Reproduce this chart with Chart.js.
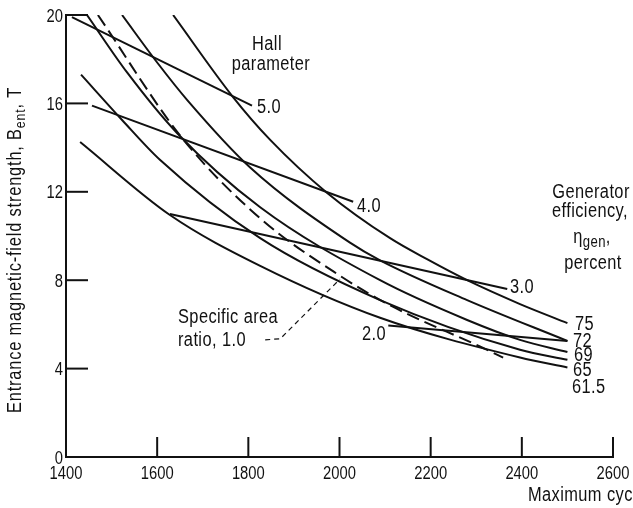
<!DOCTYPE html>
<html>
<head>
<meta charset="utf-8">
<script src="https://cdn.jsdelivr.net/npm/chart.js@4.4.1/dist/chart.umd.min.js"></script>
<style>
  html, body { margin: 0; padding: 0; background: #fff; }
  #wrap { width: 633px; height: 508px; }
</style>
</head>
<body>
<div id="wrap"><canvas id="chart" width="633" height="508"></canvas></div>
<script>
// --- data (temperature, K / entrance field, T) ---

const xTicks = [1400, 1600, 1800, 2000, 2200, 2400, 2600];
const yTicks = [0, 4, 8, 12, 16, 20];

// generator efficiency curves, percent
const eff75T = [1635, 1766, 1848, 1973, 2111, 2192, 2280, 2396, 2500];
const eff75B = [20.0, 16.3, 14.35, 11.95, 9.9, 8.95, 8.0, 6.92, 6.06];

const eff72T = [1523, 1600, 1666, 1804, 2023, 2089, 2280, 2500];
const eff72B = [20.0, 17.85, 16.15, 13.1, 9.7, 8.9, 7.1, 5.25];

const eff69T = [1446, 1534, 1644, 1826, 2089, 2280, 2396, 2500];
const eff69B = [20.0, 17.4, 14.65, 11.3, 8.0, 6.2, 5.3, 4.75];

const eff65T = [1433, 1523, 1606, 1826, 2089, 2396, 2500];
const eff65B = [17.3, 15.25, 13.45, 9.9, 7.1, 4.85, 4.4];

const eff615T = [1431, 1628, 1826, 2089, 2396, 2500];
const eff615B = [14.25, 10.95, 8.65, 6.3, 4.5, 4.05];

// specific area ratio 1.0 (dashed)
const areaT = [1470, 1654, 1826, 2001, 2117, 2308, 2359];
const areaB = [20.0, 14.45, 10.8, 8.2, 6.8, 5.0, 4.5];

// Hall parameter lines
const hall5T = [1413, 1808];
const hall5B = [19.9, 15.9];
const hall4T = [1457, 2030];
const hall4B = [15.9, 11.55];
const hall3T = [1628, 2368];
const hall3B = [11.0, 7.6];
const hall2T = [2107, 2500];
const hall2B = [5.95, 5.25];

// leader from the "Specific area ratio" note to the dashed curve
const leaderT = [1837, 1870, 2001];
const leaderB = [5.3, 5.35, 8.05];

// --- helpers ---

const INK = "#111";
const FONT = '"Liberation Sans", Arial, sans-serif';
const SQUEEZE = 0.82; // the original lettering is a condensed face

function toPoints(xs, ys) {
  return xs.map(function (x, i) {
    return { x: x, y: ys[i] };
  });
}

function curve(xs, ys) {
  return {
    data: toPoints(xs, ys),
    borderColor: INK,
    borderWidth: 2,
    pointRadius: 0,
    fill: false,
    cubicInterpolationMode: "monotone",
  };
}

function straight(xs, ys) {
  return {
    data: toPoints(xs, ys),
    borderColor: INK,
    borderWidth: 2,
    pointRadius: 0,
    fill: false,
    tension: 0,
  };
}

// condensed text: squeeze horizontally around the anchor point
function drawText(ctx, text, x, y, align, size) {
  ctx.save();
  ctx.font = (size || 20) + "px " + FONT;
  ctx.textAlign = align || "left";
  ctx.textBaseline = "alphabetic";
  ctx.translate(x, y);
  ctx.scale(SQUEEZE, 1);
  ctx.fillText(text, 0, 0);
  ctx.restore();
}

function textWidth(ctx, text, size) {
  ctx.font = size + "px " + FONT;
  return ctx.measureText(text).width * SQUEEZE;
}

// --- annotation plugin: inward ticks, tick labels and the figure text ---

const figurePlugin = {
  id: "figure",
  afterDraw: function (chart) {
    const ctx = chart.ctx;
    const xs = chart.scales.x;
    const ys = chart.scales.y;
    const area = chart.chartArea;

    ctx.save();
    ctx.strokeStyle = INK;
    ctx.fillStyle = INK;
    ctx.lineWidth = 2;

    // ticks point into the plot
    yTicks.forEach(function (v) {
      const py = ys.getPixelForValue(v);
      if (v !== 0) {
        ctx.beginPath();
        ctx.moveTo(area.left, py);
        ctx.lineTo(area.left + 22, py);
        ctx.stroke();
      }
      drawText(ctx, String(v), area.left - 3, py + 6.5, "right", 18);
    });
    xTicks.forEach(function (v) {
      const px = xs.getPixelForValue(v);
      if (v !== 1400) {
        ctx.beginPath();
        ctx.moveTo(px, area.bottom);
        ctx.lineTo(px, area.bottom - 20);
        ctx.stroke();
      }
      drawText(ctx, String(v), px, 479, "center", 18);
    });

    ctx.letterSpacing = "0.5px";

    // Hall parameter note and line labels
    drawText(ctx, "Hall", 267, 50, "center");
    drawText(ctx, "parameter", 271, 70, "center");
    drawText(ctx, "5.0", 257, 113);
    drawText(ctx, "4.0", 357, 212);
    drawText(ctx, "3.0", 510, 293);
    drawText(ctx, "2.0", 386, 340, "right");

    // efficiency labels
    drawText(ctx, "75", 575, 330);
    drawText(ctx, "72", 573, 347);
    drawText(ctx, "69", 574, 361);
    drawText(ctx, "65", 573, 376);
    drawText(ctx, "61.5", 572, 393);

    drawText(ctx, "Generator", 591, 198, "center");
    drawText(ctx, "efficiency,", 590, 217, "center");
    // eta with subscript
    const wEta = textWidth(ctx, "\u03b7", 20);
    const wGen = textWidth(ctx, "gen", 16);
    const wCom = textWidth(ctx, ",", 20);
    const ex = 592 - (wEta + wGen + wCom) / 2;
    drawText(ctx, "\u03b7", ex, 243);
    drawText(ctx, "gen", ex + wEta, 247, "left", 16);
    drawText(ctx, ",", ex + wEta + wGen, 243);
    drawText(ctx, "percent", 593, 269, "center");

    drawText(ctx, "Specific area", 178, 323);
    drawText(ctx, "ratio, 1.0", 178, 346);

    // x axis title (runs off the right edge in the original)
    drawText(ctx, "Maximum cycle temperature, K", 528, 501);

    // y axis title, rotated, with subscript, stretched to its span in the figure
    const p1 = "Entrance magnetic-field strength, B";
    const p2 = "ent";
    const p3 = ", T";
    ctx.letterSpacing = "0px";
    const natural = textWidth(ctx, p1, 20) + textWidth(ctx, p2, 15) + textWidth(ctx, p3, 20);
    const nChars = (p1 + p2 + p3).length;
    const spacing = (326 - natural) / nChars;
    ctx.letterSpacing = (spacing / SQUEEZE).toFixed(2) + "px";
    const w1 = textWidth(ctx, p1, 20);
    const w2 = textWidth(ctx, p2, 15);
    const w3 = textWidth(ctx, p3, 20);
    ctx.translate(21, 250);
    ctx.rotate(-Math.PI / 2);
    const tx = -(w1 + w2 + w3) / 2;
    drawText(ctx, p1, tx, 0);
    drawText(ctx, p2, tx + w1, 4, "left", 15);
    drawText(ctx, p3, tx + w1 + w2, 0);

    ctx.restore();
  },
};

// --- chart ---

const areaSet = curve(areaT, areaB);
areaSet.borderDash = [13, 6];

const leaderSet = straight(leaderT, leaderB);
leaderSet.borderWidth = 1.2;
leaderSet.borderDash = [5, 4];

new Chart(document.getElementById("chart"), {
  type: "line",
  data: {
    datasets: [
      curve(eff75T, eff75B),
      curve(eff72T, eff72B),
      curve(eff69T, eff69B),
      curve(eff65T, eff65B),
      curve(eff615T, eff615B),
      areaSet,
      straight(hall5T, hall5B),
      straight(hall4T, hall4B),
      straight(hall3T, hall3B),
      straight(hall2T, hall2B),
      leaderSet,
    ],
  },
  options: {
    responsive: false,
    animation: false,
    devicePixelRatio: 1,
    layout: { padding: { left: 0, top: 15, right: 20, bottom: 0 } },
    plugins: {
      legend: { display: false },
      tooltip: { enabled: false },
    },
    scales: {
      x: {
        type: "linear",
        min: 1400,
        max: 2600,
        afterBuildTicks: function (scale) {
          scale.ticks = xTicks.map(function (v) { return { value: v }; });
        },
        afterFit: function (scale) { scale.height = 51; },
        grid: { display: false },
        border: { display: true, color: INK, width: 2 },
        ticks: { display: false },
      },
      y: {
        type: "linear",
        min: 0,
        max: 20,
        afterBuildTicks: function (scale) {
          scale.ticks = yTicks.map(function (v) { return { value: v }; });
        },
        afterFit: function (scale) { scale.width = 66; },
        grid: { display: false },
        border: { display: true, color: INK, width: 2 },
        ticks: { display: false },
      },
    },
  },
  plugins: [figurePlugin],
});
</script>
</body>
</html>
